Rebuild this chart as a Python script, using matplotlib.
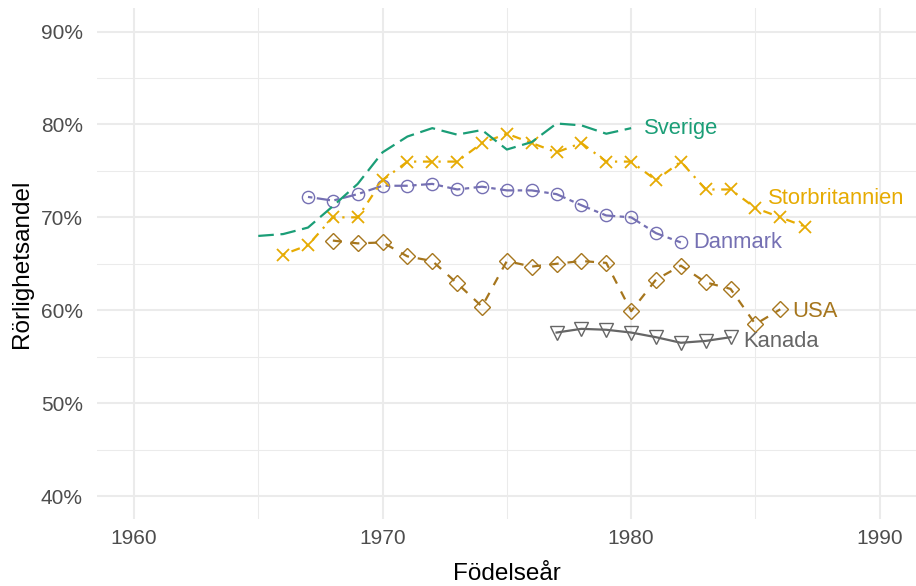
import matplotlib
matplotlib.use("Agg")
import matplotlib.pyplot as plt
from matplotlib.ticker import MultipleLocator, PercentFormatter

plt.rcParams['font.family'] = ['Liberation Sans', 'DejaVu Sans']

# data (share in percent, by birth year)
sverige_years = list(range(1965, 1981))
sverige = [68.0, 68.2, 68.9, 71.2, 73.6, 77.0, 78.7, 79.6, 78.9, 79.4,
           77.3, 78.1, 80.1, 79.9, 79.0, 79.6]

uk_years = list(range(1966, 1988))
uk = [66.0, 67.0, 70.0, 70.0, 74.0, 76.0, 76.0, 76.0, 78.0, 79.0, 78.0,
      77.0, 78.0, 76.0, 76.0, 74.0, 76.0, 73.0, 73.0, 71.0, 70.0, 69.0]

dk_years = list(range(1967, 1983))
dk = [72.2, 71.8, 72.5, 73.4, 73.4, 73.6, 73.0, 73.3, 72.9, 72.9,
      72.5, 71.3, 70.2, 70.0, 68.3, 67.3]

usa_years = list(range(1968, 1987))
usa = [67.5, 67.2, 67.3, 65.8, 65.3, 62.9, 60.4, 65.3, 64.7, 65.0,
       65.3, 65.1, 59.9, 63.3, 64.8, 63.0, 62.3, 58.5, 60.1]

ca_years = list(range(1977, 1985))
ca = [57.6, 58.0, 57.9, 57.6, 57.1, 56.5, 56.7, 57.1]

names = ['Danmark', 'Kanada', 'Storbritannien', 'Sverige', 'USA']
colors = ['#7570B3', '#666666', '#E6AB02', '#1B9E77', '#A6761D']
label_x = [1982.5, 1984.5, 1985.5, 1980.5, 1986.5]
label_y = [67.3, 56.6, 72.0, 79.6, 59.9]

fig = plt.figure(figsize=(9.16, 5.86), dpi=100)
ax = fig.add_axes([96.7 / 916, 1 - 519.3 / 586, (917 - 96.7) / 916, (519.3 - 8.3) / 586])

lw = 1.6
ax.plot(dk_years, dk, color=colors[0], lw=lw, ls=(0, (2, 2, 6, 2)),
        marker='o', ms=8.8, mew=1.0, fillstyle='none')
ax.plot(ca_years, ca, color=colors[1], lw=lw, ls='-',
        marker='v', ms=9.5, mew=1.0, fillstyle='none')
ax.plot(uk_years, uk, color=colors[2], lw=lw, ls=(0, (1, 3, 4, 3)),
        marker='x', ms=9, mew=1.3)
ax.plot(sverige_years, sverige, color=colors[3], lw=lw, ls=(0, (7, 3)))
ax.plot(usa_years, usa, color=colors[4], lw=lw, ls=(0, (4, 4)),
        marker='D', ms=8, mew=1.0, fillstyle='none')

for name, c, x, y in zip(names, colors, label_x, label_y):
    ax.text(x, y, name, color=c, fontsize=15.8, ha='left', va='center')

ax.set_xlim(1958.5, 1991.5)
ax.set_ylim(37.5, 92.5)
ax.xaxis.set_major_locator(MultipleLocator(10))
ax.xaxis.set_minor_locator(MultipleLocator(5))
ax.yaxis.set_major_locator(MultipleLocator(10))
ax.yaxis.set_minor_locator(MultipleLocator(5))
ax.yaxis.set_major_formatter(PercentFormatter(decimals=0))

ax.grid(which='major', color='#EBEBEB', lw=1.5)
ax.grid(which='minor', color='#EBEBEB', lw=0.75)
ax.set_axisbelow(True)
for s in ax.spines.values():
    s.set_visible(False)
ax.tick_params(which='both', length=0)
ax.tick_params(axis='x', pad=7, labelsize=15, labelcolor='#4D4D4D')
ax.tick_params(axis='y', pad=10, labelsize=15, labelcolor='#4D4D4D')

fig.text((96.7 + 917) / 2 / 916, 1 - 580 / 586, 'Födelseår', fontsize=17.5,
         ha='center', va='baseline')
fig.text(22 / 916, 1 - 263.8 / 586, 'Rörlighetsandel', fontsize=17.5,
         rotation=90, ha='center', va='center')

fig.savefig('out.png', dpi=100)
